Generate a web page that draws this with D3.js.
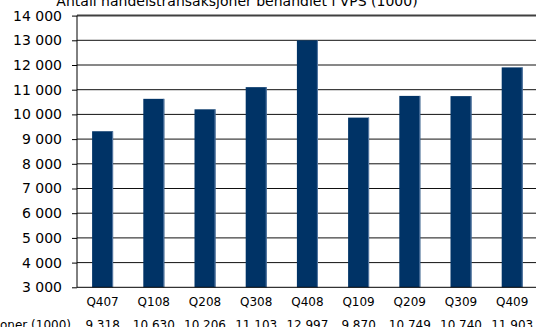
<!DOCTYPE html>
<html>
<head>
<meta charset="utf-8">
<script src="https://cdn.jsdelivr.net/npm/d3@7"></script>
<style>
  html, body { margin: 0; padding: 0; background: #fff; }
  svg { display: block; font-family: "DejaVu Sans", Verdana, sans-serif; }
</style>
</head>
<body>
<svg id="chart" width="536" height="327"></svg>
<script>
// Quarterly trade transactions processed in VPS (thousands)
const quarters = ["Q407", "Q108", "Q208", "Q308", "Q408", "Q109", "Q209", "Q309", "Q409"];
const transactions = [9318, 10630, 10206, 11103, 12997, 9870, 10749, 10740, 11903];
const yTicks = [3000, 4000, 5000, 6000, 7000, 8000, 9000, 10000, 11000, 12000, 13000, 14000];
const titleText = "Antall handelstransaksjoner behandlet i VPS (1000)";
const rowLabel = "Antall handelstransaksjoner (1000)";

const svg = d3.select("#chart");
const plotLeft = 77, plotRight = 537.8, plotTop = 15.6, plotBottom = 287.3;

const x = d3.scaleBand().domain(quarters).range([plotLeft, plotRight]).paddingInner(0.59).paddingOuter(0.295);
const y = d3.scaleLinear().domain([3000, 14000]).range([plotBottom, plotTop]);

const fmt = v => d3.format(",")(v).replace(/,/g, " ");

// Gridlines
svg.append("g")
  .selectAll("line")
  .data(yTicks.filter(t => t > 3000))
  .join("line")
  .attr("x1", plotLeft).attr("x2", 536)
  .attr("y1", d => y(d)).attr("y2", d => y(d))
  .attr("stroke", d => d === 14000 ? "#404040" : "#111")
  .attr("stroke-width", d => d === 14000 ? 2 : 1);

// Bars
const bars = svg.append("g");
bars.selectAll("rect.bar")
  .data(transactions)
  .join("rect")
  .attr("class", "bar")
  .attr("x", (d, i) => x(quarters[i]))
  .attr("y", d => y(d))
  .attr("width", x.bandwidth())
  .attr("height", d => plotBottom - y(d))
  .attr("fill", "#003366");
bars.selectAll("rect.edge")
  .data(transactions)
  .join("rect")
  .attr("class", "edge")
  .attr("x", (d, i) => x(quarters[i]) + x.bandwidth() - 1)
  .attr("y", d => y(d))
  .attr("width", 1)
  .attr("height", d => plotBottom - y(d))
  .attr("fill", "#5a7ca6");

// Y axis
const yAxis = d3.axisLeft(y).tickValues(yTicks).tickSize(5).tickPadding(10).tickFormat(fmt);
const gy = svg.append("g").attr("transform", `translate(${plotLeft},0)`).call(yAxis);
gy.select(".domain").attr("stroke", "#000").attr("d", `M0,${plotTop}V${plotBottom}`);
gy.selectAll(".tick line").attr("stroke", "#000");
gy.selectAll(".tick text").attr("fill", "#000").attr("font-size", 14)
  .attr("font-family", "DejaVu Sans, Verdana, sans-serif");

// Baseline
svg.append("line")
  .attr("x1", plotLeft).attr("x2", 536)
  .attr("y1", plotBottom).attr("y2", plotBottom)
  .attr("stroke", "#000");

// Category labels
svg.append("g")
  .selectAll("text")
  .data(quarters)
  .join("text")
  .attr("x", d => x(d) + x.bandwidth() / 2)
  .attr("y", 305.5)
  .attr("text-anchor", "middle")
  .attr("font-size", 12)
  .attr("fill", "#000")
  .text(d => d);

// Data table row
svg.append("text")
  .attr("x", 71).attr("y", 328.5)
  .attr("text-anchor", "end")
  .attr("font-size", 12)
  .attr("fill", "#000")
  .text(rowLabel);
svg.append("g")
  .selectAll("text")
  .data(transactions)
  .join("text")
  .attr("x", (d, i) => x(quarters[i]) + x.bandwidth() / 2)
  .attr("y", 328.5)
  .attr("text-anchor", "middle")
  .attr("font-size", 12)
  .attr("fill", "#000")
  .text(d => fmt(d));

// Title
svg.append("text")
  .attr("x", 237).attr("y", 5.5)
  .attr("text-anchor", "middle")
  .attr("font-size", 14)
  .attr("fill", "#000")
  .text(titleText);
</script>
</body>
</html>
